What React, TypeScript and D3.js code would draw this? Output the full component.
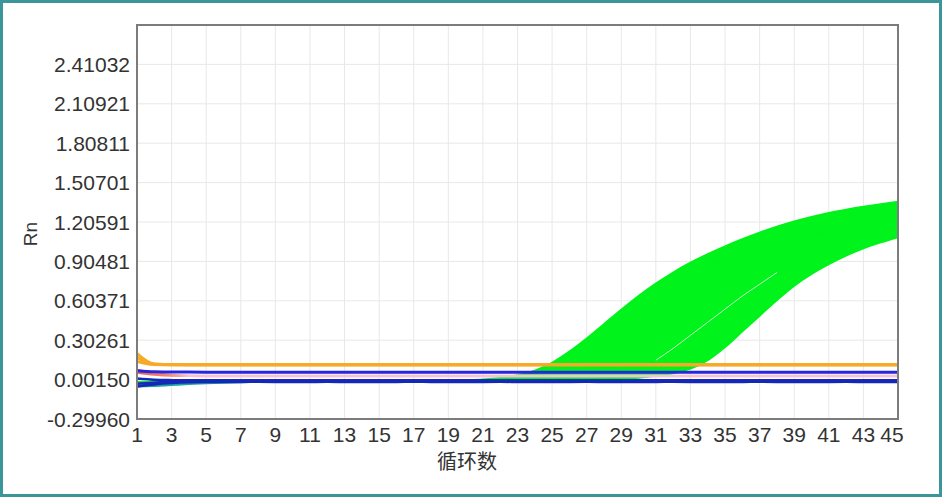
import React from "react";
import * as d3 from "d3";

// ---- data ----
const cycles: number[] = d3.range(1, 46);
const xTickLabels: number[] = [1, 3, 5, 7, 9, 11, 13, 15, 17, 19, 21, 23, 25, 27, 29, 31, 33, 35, 37, 39, 41, 43, 45];
const yTickValues: number[] = [-0.2996, 0.0015, 0.30261, 0.60371, 0.90481, 1.20591, 1.50701, 1.80811, 2.10921, 2.41032];
const yMax = 2.71142;

// green amplification curves (earliest -> latest)
const greenA: number[] = [-0.02, -0.015, -0.012, -0.01, -0.01, -0.01, -0.01, -0.01, -0.01, -0.01, -0.01, -0.01, -0.01, -0.01, -0.01, -0.01, -0.01, -0.01, -0.008, -0.004, 0.002, 0.014, 0.034, 0.07, 0.13, 0.215, 0.315, 0.425, 0.535, 0.64, 0.735, 0.82, 0.895, 0.96, 1.02, 1.075, 1.125, 1.17, 1.21, 1.245, 1.275, 1.3, 1.322, 1.342, 1.36];
const greenB: number[] = [-0.02, -0.015, -0.012, -0.01, -0.01, -0.01, -0.01, -0.01, -0.01, -0.01, -0.01, -0.01, -0.01, -0.01, -0.01, -0.01, -0.01, -0.01, -0.01, -0.01, -0.008, -0.005, 0.005, 0.02, 0.05, 0.1, 0.18, 0.28, 0.39, 0.5, 0.6, 0.7, 0.78, 0.86, 0.93, 0.99, 1.05, 1.1, 1.15, 1.19, 1.23, 1.26, 1.285, 1.305, 1.32];
const greenC: number[] = [-0.02, -0.015, -0.012, -0.01, -0.01, -0.01, -0.01, -0.01, -0.01, -0.01, -0.01, -0.01, -0.01, -0.01, -0.01, -0.01, -0.01, -0.01, -0.01, -0.01, -0.01, -0.01, -0.008, -0.005, 0.0, 0.015, 0.04, 0.08, 0.15, 0.24, 0.34, 0.45, 0.55, 0.65, 0.74, 0.82, 0.9, 0.97, 1.03, 1.09, 1.14, 1.18, 1.22, 1.25, 1.28];
const greenD: number[] = [-0.02, -0.015, -0.012, -0.01, -0.01, -0.01, -0.01, -0.01, -0.01, -0.01, -0.01, -0.01, -0.01, -0.01, -0.01, -0.01, -0.01, -0.01, -0.01, -0.01, -0.01, -0.01, -0.01, -0.01, -0.01, -0.008, -0.005, 0.0, 0.015, 0.04, 0.08, 0.15, 0.24, 0.34, 0.45, 0.55, 0.65, 0.74, 0.82, 0.89, 0.96, 1.02, 1.07, 1.12, 1.16];
const greenE: number[] = [-0.02, -0.015, -0.012, -0.01, -0.01, -0.01, -0.01, -0.01, -0.01, -0.01, -0.01, -0.01, -0.01, -0.01, -0.01, -0.01, -0.01, -0.01, -0.01, -0.01, -0.01, -0.01, -0.01, -0.01, -0.01, -0.01, -0.008, -0.003, 0.005, 0.015, 0.03, 0.05, 0.085, 0.15, 0.25, 0.37, 0.49, 0.61, 0.72, 0.81, 0.885, 0.95, 1.005, 1.05, 1.09];
// faint gap between curve groups
const greenGap: (number | null)[] = [null, null, null, null, null, null, null, null, null, null, null, null, null, null, null, null, null, null, null, null, null, null, null, null, null, null, null, null, null, null, 0.15, 0.24, 0.34, 0.44, 0.54, 0.64, 0.73, 0.82, null, null, null, null, null, null, null];

const orange1: number[] = [0.2, 0.12, 0.115, 0.115, 0.115, 0.115, 0.115, 0.115, 0.115, 0.115, 0.115, 0.115, 0.115, 0.115, 0.115, 0.115, 0.115, 0.115, 0.115, 0.115, 0.115, 0.115, 0.115, 0.115, 0.115, 0.115, 0.115, 0.115, 0.115, 0.115, 0.115, 0.115, 0.115, 0.115, 0.115, 0.115, 0.115, 0.115, 0.115, 0.115, 0.115, 0.115, 0.115, 0.115, 0.115];
const orange2: number[] = [0.17, 0.118, 0.116, 0.115, 0.115, 0.115, 0.115, 0.115, 0.115, 0.115, 0.115, 0.115, 0.115, 0.115, 0.115, 0.115, 0.115, 0.115, 0.115, 0.115, 0.115, 0.115, 0.115, 0.115, 0.115, 0.115, 0.115, 0.115, 0.115, 0.115, 0.115, 0.115, 0.115, 0.115, 0.115, 0.115, 0.115, 0.115, 0.115, 0.115, 0.115, 0.115, 0.115, 0.115, 0.115];
const orange3: number[] = [0.14, 0.117, 0.115, 0.115, 0.115, 0.115, 0.115, 0.115, 0.115, 0.115, 0.115, 0.115, 0.115, 0.115, 0.115, 0.115, 0.115, 0.115, 0.115, 0.115, 0.115, 0.115, 0.115, 0.115, 0.115, 0.115, 0.115, 0.115, 0.115, 0.115, 0.115, 0.115, 0.115, 0.115, 0.115, 0.115, 0.115, 0.115, 0.115, 0.115, 0.115, 0.115, 0.115, 0.115, 0.115];

const red1: number[] = [0.075, 0.05, 0.036, 0.031, 0.03, 0.03, 0.03, 0.03, 0.03, 0.03, 0.03, 0.03, 0.03, 0.03, 0.03, 0.03, 0.03, 0.03, 0.03, 0.03, 0.03, 0.03, 0.03, 0.03, 0.03, 0.03, 0.03, 0.03, 0.03, 0.03, 0.03, 0.03, 0.03, 0.03, 0.03, 0.03, 0.03, 0.03, 0.03, 0.03, 0.03, 0.03, 0.03, 0.03, 0.03];
const red2: number[] = [0.055, 0.04, 0.032, 0.03, 0.028, 0.028, 0.028, 0.028, 0.028, 0.028, 0.028, 0.028, 0.028, 0.028, 0.028, 0.028, 0.028, 0.028, 0.028, 0.028, 0.028, 0.028, 0.028, 0.028, 0.028, 0.028, 0.028, 0.028, 0.028, 0.028, 0.028, 0.028, 0.028, 0.028, 0.028, 0.028, 0.028, 0.028, 0.028, 0.028, 0.028, 0.028, 0.028, 0.028, 0.028];

const blue1: number[] = [0.07, 0.062, 0.06, 0.059, 0.058, 0.058, 0.058, 0.058, 0.058, 0.058, 0.058, 0.058, 0.058, 0.058, 0.058, 0.058, 0.058, 0.058, 0.058, 0.058, 0.058, 0.058, 0.058, 0.058, 0.058, 0.058, 0.058, 0.058, 0.058, 0.058, 0.058, 0.058, 0.058, 0.058, 0.058, 0.058, 0.058, 0.058, 0.058, 0.058, 0.058, 0.058, 0.058, 0.058, 0.058];

const navy1: number[] = [-0.03, -0.022, -0.016, -0.013, -0.012, -0.011, -0.01, -0.01, -0.011, -0.01, -0.01, -0.009, -0.01, -0.011, -0.01, -0.01, -0.009, -0.01, -0.01, -0.011, -0.01, -0.01, -0.01, -0.009, -0.01, -0.01, -0.011, -0.01, -0.01, -0.009, -0.01, -0.01, -0.01, -0.011, -0.01, -0.01, -0.01, -0.009, -0.01, -0.01, -0.011, -0.01, -0.01, -0.01, -0.01];
const navy2: number[] = [-0.05, -0.035, -0.025, -0.019, -0.017, -0.016, -0.016, -0.015, -0.016, -0.017, -0.016, -0.015, -0.016, -0.017, -0.016, -0.016, -0.015, -0.016, -0.017, -0.016, -0.016, -0.015, -0.016, -0.017, -0.016, -0.016, -0.015, -0.016, -0.017, -0.016, -0.016, -0.015, -0.016, -0.017, -0.016, -0.016, -0.015, -0.016, -0.017, -0.016, -0.016, -0.015, -0.016, -0.017, -0.016];
const navy3: number[] = [0.01, 0.0, -0.003, -0.004, -0.004, -0.004, -0.004, -0.004, -0.004, -0.004, -0.004, -0.004, -0.004, -0.004, -0.004, -0.004, -0.004, -0.004, -0.004, -0.004, -0.004, -0.004, -0.004, -0.004, -0.004, -0.004, -0.004, -0.004, -0.004, -0.004, -0.004, -0.004, -0.004, -0.004, -0.004, -0.004, -0.004, -0.004, -0.004, -0.004, -0.004, -0.004, -0.004, -0.004, -0.004];
const teal1: number[] = [-0.05, -0.045, -0.038, -0.031, -0.025, -0.02, -0.017, -0.015, -0.013, -0.012, -0.011, -0.011, -0.011, -0.011, -0.011, -0.011, -0.011, -0.011, -0.011, -0.011, -0.011, -0.011, -0.011, -0.011, -0.011, -0.011, -0.011, -0.011, -0.011, -0.011, -0.011, -0.011, -0.011, -0.011, -0.011, -0.011, -0.011, -0.011, -0.011, -0.011, -0.011, -0.011, -0.011, -0.011, -0.011];

const greenSeries = [greenA, greenB, greenC, greenD, greenE];

// ---- layout ----
const W = 942;
const H = 497;
const L = 137;
const R = 898;
const T = 25;
const B = 419;

export default function App() {
  const x = d3.scaleLinear().domain([1, 45]).range([L, R]);
  const y = d3.scaleLinear().domain([yTickValues[0], yMax]).range([B, T]);

  const line = d3
    .line<number>()
    .x((_, i) => x(cycles[i]))
    .y((d) => y(d))
    .curve(d3.curveMonotoneX);

  const gapLine = d3
    .line<number | null>()
    .defined((d) => d !== null)
    .x((_, i) => x(cycles[i]))
    .y((d) => y(d as number))
    .curve(d3.curveMonotoneX);

  const band = d3
    .area<number>()
    .x((c) => x(c))
    .y0((_, i) => y(greenE[i]))
    .y1((_, i) => y(greenA[i]))
    .curve(d3.curveMonotoneX);

  const font = "'Liberation Sans', Arial, sans-serif";
  const green = "#00f31a";

  return (
    <svg width={W} height={H} style={{ position: "absolute", left: 0, top: 0, background: "#fff" }}>
      <defs>
        <clipPath id="plot">
          <rect x={L} y={T} width={R - L} height={B - T} />
        </clipPath>
        <linearGradient id="redGrad" gradientUnits="userSpaceOnUse" x1={x(1)} x2={x(4)} y1={0} y2={0}>
          <stop offset="0" stopColor="#f0604e" />
          <stop offset="0.6" stopColor="#f08878" />
          <stop offset="1" stopColor="#f2c4d4" />
        </linearGradient>
      </defs>

      {/* grid */}
      {xTickLabels.map((c) => (
        <line key={"gx" + c} x1={x(c)} x2={x(c)} y1={T} y2={B} stroke="#e8e8e8" strokeWidth={1} />
      ))}
      {yTickValues.map((v) => (
        <line key={"gy" + v} x1={L} x2={R} y1={y(v)} y2={y(v)} stroke="#e8e8e8" strokeWidth={1} />
      ))}

      <g clipPath="url(#plot)">
        <path d={band(cycles) || ""} fill={green} />
        {greenSeries.map((s, i) => (
          <path key={"g" + i} d={line(s) || ""} fill="none" stroke={green} strokeWidth={2} />
        ))}
        <path d={gapLine(greenGap) || ""} fill="none" stroke="#c4f7c6" strokeWidth={1} />
        <path d={line(teal1) || ""} fill="none" stroke="#1aa5a0" strokeWidth={2.5} />
        {[red1, red2].map((s, i) => (
          <path key={"r" + i} d={line(s) || ""} fill="none" stroke="url(#redGrad)" strokeWidth={2.5} />
        ))}
        {[navy2, navy1, navy3].map((s, i) => (
          <path key={"n" + i} d={line(s) || ""} fill="none" stroke="#1528b8" strokeWidth={2.6} />
        ))}
        <path d={line(blue1) || ""} fill="none" stroke="#2626e0" strokeWidth={3} />
        {[orange3, orange2, orange1].map((s, i) => (
          <path key={"o" + i} d={line(s) || ""} fill="none" stroke="#f7a928" strokeWidth={3} />
        ))}
      </g>

      {/* plot border */}
      <rect x={L} y={T} width={R - L} height={B - T} fill="none" stroke="#7c7c7c" strokeWidth={2} />

      {/* y tick labels */}
      {yTickValues.map((v) => (
        <text key={"yl" + v} x={130} y={y(v)} dy="0.36em" textAnchor="end" fontFamily={font} fontSize={21} fill="#333">
          {v.toFixed(5)}
        </text>
      ))}
      {/* x tick labels */}
      {xTickLabels.map((c, i) => (
        <text
          key={"xl" + c}
          x={x(c) + (i === xTickLabels.length - 1 ? -6 : 0)}
          y={442}
          textAnchor="middle"
          fontFamily={font}
          fontSize={21}
          fill="#333"
        >
          {c}
        </text>
      ))}

      {/* axis titles */}
      <text x={30} y={234} transform="rotate(-90 30 234)" textAnchor="middle" dy="0.36em" fontFamily={font} fontSize={19} fill="#333">
        Rn
      </text>
      <text x={467} y={469} textAnchor="middle" fontFamily="'Noto Sans CJK SC', sans-serif" fontSize={20} fill="#333">
        循环数
      </text>

      {/* outer frame */}
      <rect x={1.5} y={1.5} width={W - 3} height={H - 3} fill="none" stroke="#3a9698" strokeWidth={3} />
    </svg>
  );
}
